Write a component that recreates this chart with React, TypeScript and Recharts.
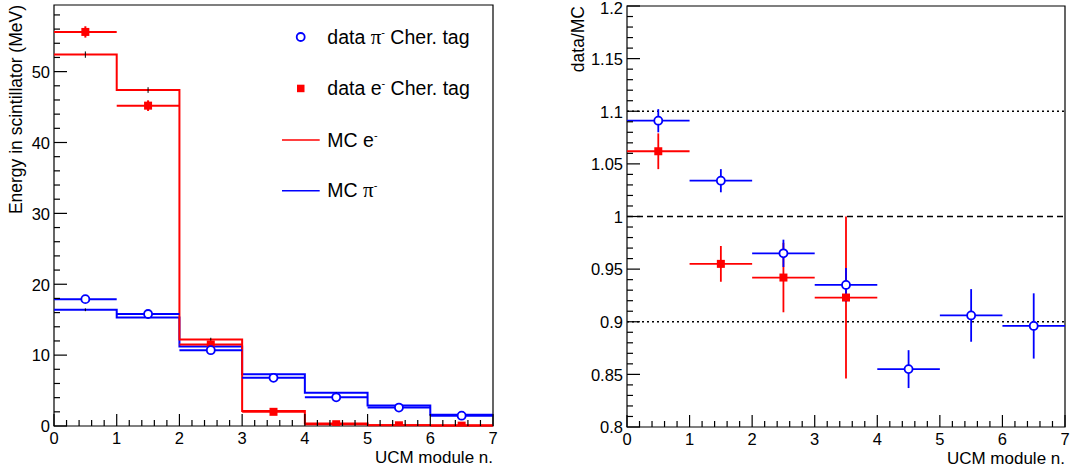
import React from 'react';
import {
  ComposedChart,
  Line,
  Scatter,
  ErrorBar,
  XAxis,
  YAxis,
  ReferenceArea,
  ReferenceLine,
  Legend,
  Label,
} from 'recharts';

// bins of the UCM modules
const binEdges = [0, 1, 2, 3, 4, 5, 6, 7];
const binCenters = [0.5, 1.5, 2.5, 3.5, 4.5, 5.5, 6.5];

// left panel: energy in scintillator (MeV)
const dataPiEnergy = [17.9, 15.8, 10.7, 6.8, 4.05, 2.6, 1.45];
const dataPiEnergyErr = [0.25, 0.2, 0.2, 0.15, 0.12, 0.1, 0.08];
const dataEEnergy = [55.6, 45.2, 11.5, 2.0, 0.25, 0.1, 0.05];
const dataEEnergyErr = [0.8, 0.75, 0.4, 0.15, 0.05, 0.03, 0.02];
const mcEEnergy = [52.4, 47.4, 12.2, 2.1, 0.35, 0.12, 0.1];
const mcEEnergyErr = [0.45, 0.4, 0.25, 0.1, 0.05, 0.03, 0.03];
const mcPiEnergy = [16.4, 15.3, 11.2, 7.3, 4.7, 2.9, 1.6];
const mcPiEnergyErr = [0.2, 0.2, 0.15, 0.12, 0.1, 0.08, 0.06];

// right panel: data / MC
const ratioPi = [1.091, 1.034, 0.965, 0.935, 0.855, 0.906, 0.896];
const ratioPiErr = [0.011, 0.011, 0.013, 0.016, 0.018, 0.025, 0.031];
const ratioE = [1.062, 0.955, 0.942, 0.923];
const ratioEErr = [0.017, 0.017, 0.033, 0.077];

// axes
const xMajor = [0, 1, 2, 3, 4, 5, 6, 7];
const leftYMajor = [0, 10, 20, 30, 40, 50];
const leftYMax = 59.4;
const rightYMajor = [0.8, 0.85, 0.9, 0.95, 1, 1.05, 1.1, 1.15, 1.2];

const RED = '#ff0000';
const BLUE = '#0000ff';
const FONT = '"Liberation Sans", Arial, Helvetica, sans-serif';
const AXIS_W = 40;
const AXIS_H = 40;

// major ticks plus n subdivisions, up to max
const withMinors = (majors: number[], n: number, max: number) => {
  const out: number[] = [];
  const step = (majors[1] - majors[0]) / n;
  for (let k = 0; ; k++) {
    const v = Math.round((majors[0] + k * step) * 1e6) / 1e6;
    if (v > max + 1e-9) break;
    out.push(v);
  }
  return out;
};

const isMajor = (majors: number[], v: number) => majors.some((m) => Math.abs(m - v) < 1e-6);
const fmt = (v: number) => String(Math.round(v * 100) / 100);

const stepTable = (vals: number[]) =>
  binEdges.map((x, i) => ({ x, y: vals[Math.min(i, vals.length - 1)] }));

const pointTable = (vals: number[], errs: number[]) =>
  vals.map((y, i) => ({
    x: binCenters[i],
    y,
    ex: (binEdges[i + 1] - binEdges[i]) / 2,
    ey: errs[i],
  }));

const makeXTick = (majors: number[]) => (props: any) => {
  const { x, y, payload } = props;
  const major = isMajor(majors, payload.value);
  return (
    <g>
      <line x1={x} y1={y} x2={x} y2={y - (major ? 12 : 6)} stroke="#000" strokeWidth={1.2} />
      {major && (
        <text x={x} y={y + 18} textAnchor="middle" fontSize={16.5} fill="#000" fontFamily={FONT}>
          {fmt(payload.value)}
        </text>
      )}
    </g>
  );
};

const makeYTick = (majors: number[]) => (props: any) => {
  const { x, y, payload } = props;
  const major = isMajor(majors, payload.value);
  // keep the top label inside the picture
  const ty = Math.max(y + 6.3, 14);
  return (
    <g>
      <line x1={x} y1={y} x2={x + (major ? 13 : 6)} y2={y} stroke="#000" strokeWidth={1.2} />
      {major && (
        <text x={x - 4} y={ty} textAnchor="end" fontSize={16.5} fill="#000" fontFamily={FONT}>
          {fmt(payload.value)}
        </text>
      )}
    </g>
  );
};

const OpenCircle = (props: any) => (
  <circle cx={props.cx} cy={props.cy} r={4} fill="#fff" stroke={BLUE} strokeWidth={1.8} />
);
const FilledSquare = (props: any) => (
  <rect x={props.cx - 4} y={props.cy - 4} width={8} height={8} fill={RED} />
);
const NoMarker = () => <g />;

// axis titles drawn at fixed places, ROOT style (aligned to the axis end)
const xTitle = (x: number, y: number) => () => (
  <text x={x} y={y} textAnchor="end" fontSize={17} fontFamily={FONT} fill="#000">
    UCM module n.
  </text>
);

const yTitle = (text: string, x: number, y: number) => () => (
  <text
    x={x}
    y={y}
    transform={`rotate(-90 ${x} ${y})`}
    textAnchor="end"
    fontSize={17.5}
    fontFamily={FONT}
    fill="#000"
  >
    {text}
  </text>
);

const Sup = ({ dy = -8 }: { dy?: number }) => (
  <tspan fontSize={11} dy={dy}>
    -
  </tspan>
);

const PI = () => <tspan fontFamily='"Liberation Serif", serif' fontSize={21}>π</tspan>;

const LegendBox = () => (
  <svg width={215} height={200} style={{ display: 'block' }}>
    <g fontFamily={FONT} fontSize={19.5} fill="#000">
      <circle cx={25.7} cy={22} r={4} fill="#fff" stroke={BLUE} strokeWidth={1.8} />
      <text x={52.3} y={28.5}>
        data <PI />
        <Sup />
        <tspan dy={8}> Cher. tag</tspan>
      </text>
      <rect x={22} y={69.7} width={7.5} height={7.5} fill={RED} />
      <text x={52.3} y={80}>
        data e<Sup />
        <tspan dy={8}> Cher. tag</tspan>
      </text>
      <line x1={7} x2={44.7} y1={125} y2={125} stroke={RED} strokeWidth={1.5} />
      <text x={52.3} y={131.5}>
        MC e<Sup />
      </text>
      <line x1={7} x2={44.7} y1={175.7} y2={175.7} stroke={BLUE} strokeWidth={1.5} />
      <text x={52.3} y={182}>
        MC <PI />
        <Sup />
      </text>
    </g>
  </svg>
);

const EnergyPanel = () => (
  <ComposedChart
    width={535}
    height={468}
    margin={{ top: 5, right: 42, bottom: 42 - AXIS_H, left: 54 - AXIS_W }}
    style={{ fontFamily: FONT }}
  >
    <XAxis
      dataKey="x"
      type="number"
      domain={[0, 7]}
      ticks={withMinors(xMajor, 5, 7)}
      interval={0}
      allowDataOverflow
      axisLine={false}
      tickLine={false}
      tickSize={0}
      tickMargin={0}
      height={AXIS_H}
      tick={makeXTick(xMajor)}
    >
      <Label content={xTitle(493, 463)} />
    </XAxis>
    <YAxis
      type="number"
      domain={[0, leftYMax]}
      ticks={withMinors(leftYMajor, 5, leftYMax)}
      interval={0}
      allowDataOverflow
      axisLine={false}
      tickLine={false}
      tickSize={0}
      tickMargin={0}
      width={AXIS_W}
      tick={makeYTick(leftYMajor)}
    >
      <Label content={yTitle('Energy in scintillator (MeV)', 22, 5)} />
    </YAxis>
    <ReferenceArea x1={0} x2={7} y1={0} y2={leftYMax} fill="none" stroke="#000" strokeWidth={1.2} />
    <Line
      data={stepTable(mcPiEnergy)}
      dataKey="y"
      type="stepAfter"
      stroke={BLUE}
      strokeWidth={2}
      dot={false}
      isAnimationActive={false}
    />
    <Line
      data={stepTable(mcEEnergy)}
      dataKey="y"
      type="stepAfter"
      stroke={RED}
      strokeWidth={2}
      dot={false}
      isAnimationActive={false}
    />
    <Scatter data={pointTable(mcPiEnergy, mcPiEnergyErr)} dataKey="y" shape={NoMarker} isAnimationActive={false}>
      <ErrorBar dataKey="ey" direction="y" width={0} stroke="#000" strokeWidth={1} />
    </Scatter>
    <Scatter data={pointTable(mcEEnergy, mcEEnergyErr)} dataKey="y" shape={NoMarker} isAnimationActive={false}>
      <ErrorBar dataKey="ey" direction="y" width={0} stroke="#000" strokeWidth={1} />
    </Scatter>
    <Scatter data={pointTable(dataEEnergy, dataEEnergyErr)} dataKey="y" shape={FilledSquare} isAnimationActive={false}>
      <ErrorBar dataKey="ex" direction="x" width={0} stroke={RED} strokeWidth={2} />
      <ErrorBar dataKey="ey" direction="y" width={0} stroke={RED} strokeWidth={2} />
    </Scatter>
    <Scatter data={pointTable(dataPiEnergy, dataPiEnergyErr)} dataKey="y" shape={OpenCircle} isAnimationActive={false}>
      <ErrorBar dataKey="ex" direction="x" width={0} stroke={BLUE} strokeWidth={2} />
      <ErrorBar dataKey="ey" direction="y" width={0} stroke={BLUE} strokeWidth={2} />
    </Scatter>
    <Legend
      layout="horizontal"
      verticalAlign="middle"
      align="center"
      content={() => <LegendBox />}
      wrapperStyle={{ position: 'absolute', left: 275, top: 15, width: 215, height: 200 }}
    />
  </ComposedChart>
);

const RatioPanel = () => (
  <ComposedChart
    width={531}
    height={468}
    margin={{ top: 6, right: 6, bottom: 41 - AXIS_H, left: 87 - AXIS_W }}
    style={{ fontFamily: FONT }}
  >
    <XAxis
      dataKey="x"
      type="number"
      domain={[0, 7]}
      ticks={withMinors(xMajor, 5, 7)}
      interval={0}
      allowDataOverflow
      axisLine={false}
      tickLine={false}
      tickSize={0}
      tickMargin={0}
      height={AXIS_H}
      tick={makeXTick(xMajor)}
    >
      <Label content={xTitle(525, 464)} />
    </XAxis>
    <YAxis
      type="number"
      domain={[0.8, 1.2]}
      ticks={withMinors(rightYMajor, 5, 1.2)}
      interval={0}
      allowDataOverflow
      axisLine={false}
      tickLine={false}
      tickSize={0}
      tickMargin={0}
      width={AXIS_W}
      tick={makeYTick(rightYMajor)}
    >
      <Label content={yTitle('data/MC', 44, 6)} />
    </YAxis>
    <ReferenceArea x1={0} x2={7} y1={0.8} y2={1.2} fill="none" stroke="#000" strokeWidth={1.2} />
    <ReferenceLine y={1.1} stroke="#000" strokeWidth={1.5} strokeDasharray="2 3" />
    <ReferenceLine y={1} stroke="#000" strokeWidth={1.5} strokeDasharray="6 4" />
    <ReferenceLine y={0.9} stroke="#000" strokeWidth={1.5} strokeDasharray="2 3" />
    <Scatter data={pointTable(ratioE, ratioEErr)} dataKey="y" shape={FilledSquare} isAnimationActive={false}>
      <ErrorBar dataKey="ex" direction="x" width={0} stroke={RED} strokeWidth={1.8} />
      <ErrorBar dataKey="ey" direction="y" width={0} stroke={RED} strokeWidth={1.8} />
    </Scatter>
    <Scatter data={pointTable(ratioPi, ratioPiErr)} dataKey="y" shape={OpenCircle} isAnimationActive={false}>
      <ErrorBar dataKey="ex" direction="x" width={0} stroke={BLUE} strokeWidth={1.8} />
      <ErrorBar dataKey="ey" direction="y" width={0} stroke={BLUE} strokeWidth={1.8} />
    </Scatter>
  </ComposedChart>
);

export default function App() {
  return (
    <div style={{ position: 'absolute', left: 0, top: 0, width: 1071, height: 468, background: '#fff' }}>
      <div style={{ position: 'absolute', left: 0, top: 0 }}>
        <EnergyPanel />
      </div>
      <div style={{ position: 'absolute', left: 540, top: 0 }}>
        <RatioPanel />
      </div>
    </div>
  );
}
